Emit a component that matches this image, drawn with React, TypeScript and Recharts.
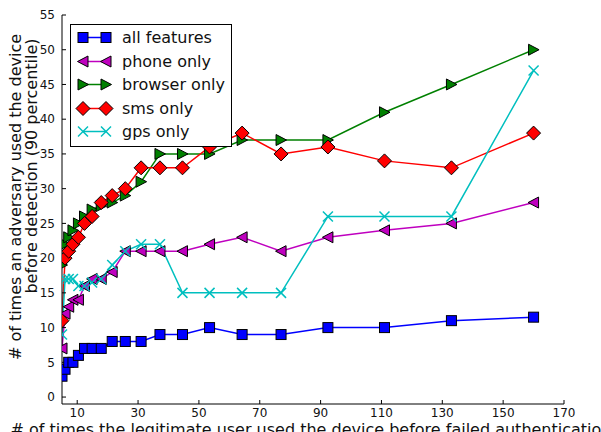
import React from 'react';
import { LineChart, Line, XAxis, YAxis, Legend } from 'recharts';

// x positions of the measurements (shared by all series)
const xValues = [5, 6, 7.2, 8.6, 10.4, 12.4, 14.9, 17.9, 21.5, 25.8, 31, 37.2, 44.6, 53.5, 64.2, 77, 92.4, 111, 133, 160];

const allFeatures = [3, 4, 5, 5, 6, 7, 7, 7, 8, 8, 8, 9, 9, 10, 9, 9, 10, 10, 11, 11.5];
const phoneOnly = [7, 12, 13, 14, 14, 16, 17, 17, 18, 21, 21, 21, 21, 22, 23, 21, 23, 24, 25, 28];
const browserOnly = [19, 22, 23, 24, 25, 26, 27, 27.5, 28, 29, 31, 35, 35, 35, 37, 37, 37, 41, 45, 50];
const smsOnly = [11, 20, 21, 22, 23, 25, 26, 28, 29, 30, 33, 33, 33, 36, 38, 35, 36, 34, 33, 38];
const gpsOnly = [9, 17, 17, 17, 16, 16, 16.5, 17, 19, 21, 22, 22, 15, 15, 15, 15, 26, 26, 26, 47];

const xTicks = [10, 30, 50, 70, 90, 110, 130, 150, 170];
const yTicks = [0, 5, 10, 15, 20, 25, 30, 35, 40, 45, 50, 55];

const seriesNames = ['all features', 'phone only', 'browser only', 'sms only', 'gps only'];

const data = xValues.map((x, i) => ({
  x,
  all: allFeatures[i],
  phone: phoneOnly[i],
  browser: browserOnly[i],
  sms: smsOnly[i],
  gps: gpsOnly[i],
}));

type Shape = 'square' | 'left' | 'right' | 'diamond' | 'cross';

const series: { key: string; color: string; shape: Shape }[] = [
  { key: 'all', color: '#0000ff', shape: 'square' },
  { key: 'phone', color: '#bf00bf', shape: 'left' },
  { key: 'browser', color: '#008000', shape: 'right' },
  { key: 'sms', color: '#ff0000', shape: 'diamond' },
  { key: 'gps', color: '#00bfbf', shape: 'cross' },
];

const FONT = '"DejaVu Sans", sans-serif';

const marker = (shape: Shape, color: string, cx: number, cy: number, key?: string) => {
  switch (shape) {
    case 'square':
      return <rect key={key} x={cx - 5} y={cy - 5} width={10} height={10} fill={color} stroke="#000" strokeWidth={1} />;
    case 'left':
      return <polygon key={key} points={`${cx - 5.5},${cy} ${cx + 5},${cy - 5.5} ${cx + 5},${cy + 5.5}`} fill={color} stroke="#000" strokeWidth={1} />;
    case 'right':
      return <polygon key={key} points={`${cx + 5.5},${cy} ${cx - 5},${cy - 5.5} ${cx - 5},${cy + 5.5}`} fill={color} stroke="#000" strokeWidth={1} />;
    case 'diamond':
      return <polygon key={key} points={`${cx},${cy - 7} ${cx + 7},${cy} ${cx},${cy + 7} ${cx - 7},${cy}`} fill={color} stroke="#000" strokeWidth={1} />;
    default:
      return (
        <g key={key}>
          <line x1={cx - 5} y1={cy - 5} x2={cx + 5} y2={cy + 5} stroke={color} strokeWidth={1.5} />
          <line x1={cx - 5} y1={cy + 5} x2={cx + 5} y2={cy - 5} stroke={color} strokeWidth={1.5} />
        </g>
      );
  }
};

const makeDot = (shape: Shape, color: string) => (p: any) =>
  marker(shape, color, p.cx, p.cy, `${shape}-${p.index}`);

const renderLegend = () => (
  <div
    style={{
      width: 160,
      height: 120,
      border: '1px solid #000',
      background: '#fff',
      paddingTop: 1,
      boxSizing: 'content-box',
      fontFamily: FONT,
      fontSize: 16,
      color: '#111',
    }}
  >
    {series.map((s, i) => (
      <div key={s.key} style={{ height: 23.5, display: 'flex', alignItems: 'center' }}>
        <svg width={50} height={23} style={{ flex: 'none' }}>
          <line x1={12} y1={11.5} x2={35} y2={11.5} stroke={s.color} strokeWidth={1.5} />
          {marker(s.shape, s.color, 12, 11.5, 'a')}
          {marker(s.shape, s.color, 35, 11.5, 'b')}
        </svg>
        <span style={{ marginLeft: 1, whiteSpace: 'nowrap' }}>{seriesNames[i]}</span>
      </div>
    ))}
  </div>
);

const renderYLabel = () => (
  <g fontFamily={FONT} fontSize={16} fill="#111">
    <text transform="translate(21,197) rotate(-90)" textAnchor="middle">
      # of times an adversary used the device
    </text>
    <text transform="translate(37,166) rotate(-90)" textAnchor="middle">
      before detection (90 percentile)
    </text>
  </g>
);

const renderXLabel = () => (
  <text x={311} y={435} textAnchor="middle" fontFamily={FONT} fontSize={16} fill="#111">
    # of times the legitimate user used the device before failed authentication
  </text>
);

const tickStyle = { fontFamily: FONT, fontSize: 12, fill: '#111' };

export default function App() {
  return (
    <div style={{ position: 'absolute', left: 0, top: 0, background: '#fff' }}>
      <LineChart width={601} height={432} data={data} margin={{ top: 15, right: 37, bottom: 0, left: 22 }}>
        <XAxis
          dataKey="x"
          type="number"
          domain={[5, 170]}
          ticks={xTicks}
          allowDataOverflow
          height={28}
          tickSize={-4}
          tickMargin={8}
          tick={tickStyle}
          stroke="#000"
          tickLine={{ stroke: '#000' }}
          label={{ content: renderXLabel }}
        />
        <XAxis
          xAxisId="top"
          orientation="top"
          type="number"
          domain={[5, 170]}
          ticks={xTicks}
          height={0}
          tickSize={-4}
          tickFormatter={() => ''}
          stroke="#000"
        />
        <YAxis
          type="number"
          domain={[-1, 55]}
          ticks={yTicks}
          allowDataOverflow
          width={40}
          tickSize={-4}
          tickMargin={11}
          tick={tickStyle}
          stroke="#000"
          label={{ content: renderYLabel }}
        />
        <YAxis
          yAxisId="right"
          orientation="right"
          type="number"
          domain={[-1, 55]}
          ticks={yTicks}
          width={0}
          tickSize={-4}
          tickFormatter={() => ''}
          stroke="#000"
        />
        {series.map((s) => (
          <Line
            key={s.key}
            dataKey={s.key}
            type="linear"
            stroke={s.color}
            strokeWidth={1.5}
            dot={makeDot(s.shape, s.color)}
            activeDot={false}
            isAnimationActive={false}
          />
        ))}
        <Legend
          layout="vertical"
          align="center"
          verticalAlign="middle"
          wrapperStyle={{ left: 70, top: 24, width: 'auto' }}
          content={renderLegend}
        />
      </LineChart>
    </div>
  );
}
